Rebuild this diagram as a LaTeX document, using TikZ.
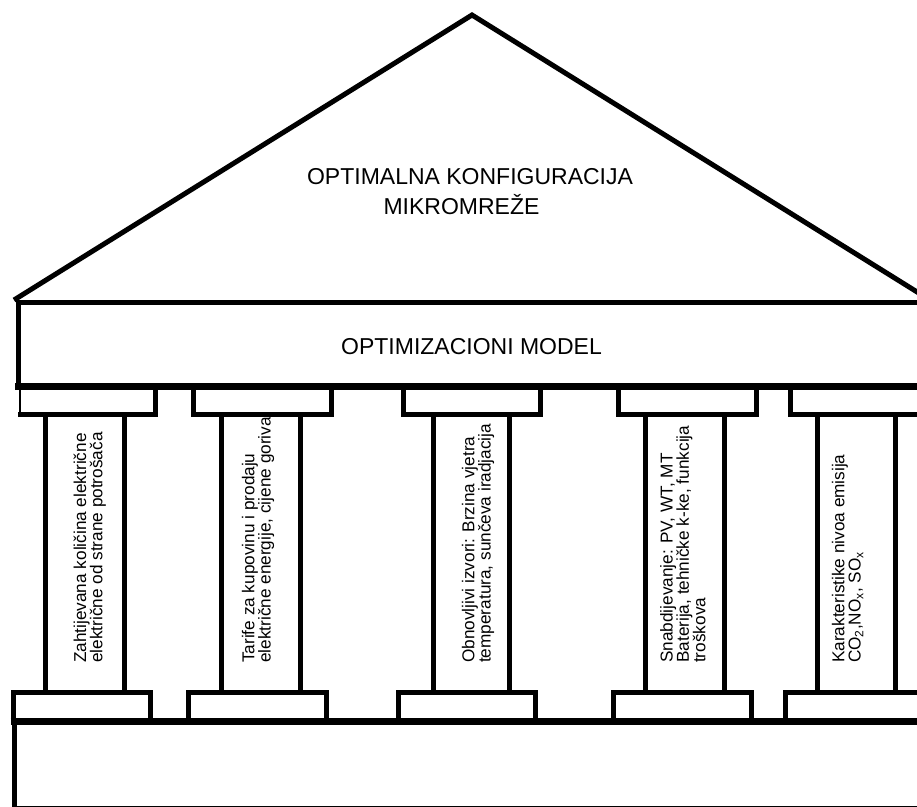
\documentclass[tikz,border=0pt]{standalone}
\usepackage{fontspec}
\setmainfont{Liberation Sans}
\begin{document}
\begin{tikzpicture}[x=1pt,y=-1pt,
  lw/.style={line width=5pt, draw=black},
  thickline/.style={line width=7pt, draw=black},
  thinline/.style={line width=2pt, draw=black},
  bigtext/.style={font=\fontsize{23}{30}\selectfont, inner sep=0pt, align=center},
  coltext/.style={rotate=90, align=left, inner sep=0pt, anchor=north west,
    font=\fontsize{17.2}{16.3}\selectfont}]
\useasboundingbox (0,0) rectangle (917,806);
\clip (0,0) rectangle (917,806);
% roof
\draw[lw, line join=miter] (14,300) -- (472,15) -- (930,300);
% model box
\draw[lw] (18,302) rectangle (935,386);
\draw[thickline] (15,386) -- (935,386);
% top capitals
\draw[thinline] (20,386) -- (20,414);
\draw[lw] (18,414) -- (155,414) -- (155,386);
\draw[lw] (193.5,386) -- (193.5,414) -- (331,414) -- (331,386);
\draw[lw] (403,386) -- (403,414) -- (540,414) -- (540,386);
\draw[lw] (618,386) -- (618,414) -- (756,414) -- (756,386);
\draw[lw] (790,386) -- (790,414) -- (935,414);
% shafts
\foreach \a/\b in {45.8/124.2, 221.7/300, 433.3/509.5, 645.8/724.2, 817.5/895.5}{
  \draw[lw] (\a,414) -- (\a,692);
  \draw[lw] (\b,414) -- (\b,692);
}
% bottom capitals
\draw[lw] (13,721) -- (13,692) -- (150.5,692) -- (150.5,721);
\draw[lw] (188.5,721) -- (188.5,692) -- (326,692) -- (326,721);
\draw[lw] (398,721) -- (398,692) -- (535,692) -- (535,721);
\draw[lw] (613,721) -- (613,692) -- (751.5,692) -- (751.5,721);
\draw[lw] (785,721) -- (785,692) -- (935,692);
% base
\draw[lw] (14,721) rectangle (935,808);
\draw[thickline] (10.5,721) -- (935,721);
% texts
\node[bigtext, anchor=north] (roof) at (470,168) {OPTIMALNA KONFIGURACIJA\\MIKROMREŽE\hspace*{17pt}};
\node[bigtext, anchor=base] (model) at (471.5,354.5) {OPTIMIZACIONI MODEL};
\node[coltext] (c1) at (73.3,663) {Zahtijevana količina električne\\električne od strane potrošača};
\node[coltext] (c2) at (241.7,663) {Tarife za kupovinu i prodaju\\električne energije, cijene goriva};
\node[coltext] (c3) at (461.7,663) {Obnovljivi izvori: Brzina vjetra\\temperatura, sunčeva iradjacija};
\node[coltext] (c4) at (660,663) {Snabdijevanje: PV, WT, MT\\Baterija, tehničke k-ke, funkcija\\troškova};
\node[coltext] (c5) at (831.7,663) {Karakteristike nivoa emisija\\CO\textsubscript{2},NO\textsubscript{x}, SO\textsubscript{x}};
\end{tikzpicture}
\end{document}
